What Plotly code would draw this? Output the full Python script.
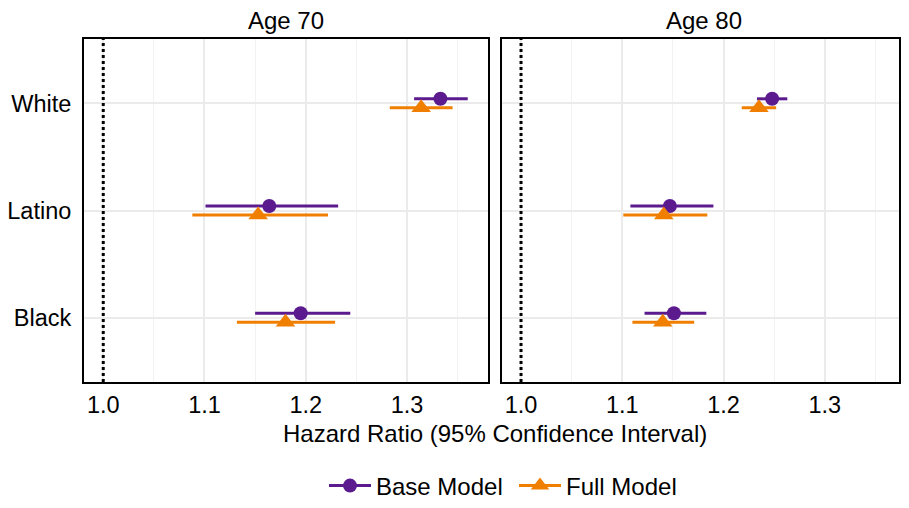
import plotly.graph_objects as go

groups = ["White", "Latino", "Black"]
ages = ["Age 70", "Age 80"]

# Age 70
base70_hr = [1.333, 1.164, 1.195]
base70_lo = [1.307, 1.101, 1.150]
base70_hi = [1.360, 1.232, 1.244]
full70_hr = [1.314, 1.153, 1.180]
full70_lo = [1.283, 1.088, 1.132]
full70_hi = [1.345, 1.222, 1.229]

# Age 80
base80_hr = [1.248, 1.147, 1.151]
base80_lo = [1.233, 1.108, 1.122]
base80_hi = [1.263, 1.190, 1.183]
full80_hr = [1.235, 1.141, 1.140]
full80_lo = [1.218, 1.101, 1.110]
full80_hi = [1.252, 1.184, 1.171]

x_ticks = [1.0, 1.1, 1.2, 1.3]

PURPLE = "#5B1A8E"
ORANGE = "#F07F00"
FONT = "Liberation Sans, Arial, Helvetica, sans-serif"

ypos = {"White": 3, "Latino": 2, "Black": 1}
dodge = 0.042

fig = go.Figure()

def add_series(hr, lo, hi, color, symbol, size, offset, xa, ya, name):
    ys = [ypos[g] + offset for g in groups]
    fig.add_trace(go.Scatter(
        x=hr, y=ys, mode="markers", name=name, showlegend=False,
        marker=dict(color=color, symbol=symbol, size=size, line=dict(width=0)),
        error_x=dict(type="data", symmetric=False,
                     array=[h - m for h, m in zip(hi, hr)],
                     arrayminus=[m - l for m, l in zip(hr, lo)],
                     color=color, thickness=3, width=0),
        xaxis=xa, yaxis=ya, hoverinfo="x+y"))

add_series(base70_hr, base70_lo, base70_hi, PURPLE, "circle", 14, dodge, "x", "y", "Base Model")
add_series(full70_hr, full70_lo, full70_hi, ORANGE, "triangle-up", 17, -dodge, "x", "y", "Full Model")
add_series(base80_hr, base80_lo, base80_hi, PURPLE, "circle", 14, dodge, "x2", "y2", "Base Model")
add_series(full80_hr, full80_lo, full80_hi, ORANGE, "triangle-up", 17, -dodge, "x2", "y2", "Full Model")

# legend entries
fig.add_trace(go.Scatter(x=[None], y=[None], mode="lines+markers", name="Base Model",
                         line=dict(color=PURPLE, width=3),
                         marker=dict(color=PURPLE, symbol="circle", size=14)))
fig.add_trace(go.Scatter(x=[None], y=[None], mode="lines+markers", name="Full Model",
                         line=dict(color=ORANGE, width=3),
                         marker=dict(color=ORANGE, symbol="triangle-up", size=17)))

# the page body adds an 8px margin; figure sized so the page fits the window exactly
OFF = 8
W, H = 893, 492
def px(v):
    return (v - OFF) / W
def py(v):
    return 1 - (v - OFF) / H

common_x = dict(tickvals=x_ticks, ticktext=[f"{v:.1f}" for v in x_ticks],
                showgrid=True, gridcolor="#EBEBEB", gridwidth=1.6,
                minor=dict(dtick=0.05, tick0=1.0, showgrid=True, gridcolor="#F2F2F2", gridwidth=0.8),
                zeroline=False, showline=True, mirror=True, linecolor="black", linewidth=2,
                ticks="outside", ticklen=1, tickcolor="rgba(0,0,0,0)",
                tickfont=dict(size=23.5, color="black", family=FONT), automargin=False)
common_y = dict(range=[0.4, 3.6], tickvals=[3, 2, 1], ticktext=groups,
                showgrid=True, gridcolor="#EBEBEB", gridwidth=1.6,
                zeroline=False, showline=True, mirror=True, linecolor="black", linewidth=2,
                ticks="outside", ticklen=6, tickcolor="rgba(0,0,0,0)",
                tickfont=dict(size=23.5, color="black", family=FONT), automargin=False)

ydom = [py(382), py(39)]
fig.update_layout(
    width=W, height=H, margin=dict(l=0, r=0, t=0, b=0, autoexpand=False),
    paper_bgcolor="white", plot_bgcolor="white",
    font=dict(family=FONT, color="black", size=24),
    xaxis=dict(domain=[px(84), px(488)], range=[0.981, 1.380], anchor="y", **common_x),
    xaxis2=dict(domain=[px(502), px(899)], range=[0.9812, 1.3733], anchor="y2", **common_x),
    yaxis=dict(domain=ydom, anchor="x", **common_y),
    yaxis2=dict(domain=ydom, anchor="x2", showticklabels=False, **common_y),
    legend=dict(orientation="h", x=px(514), xanchor="center", y=py(486), yanchor="middle",
                font=dict(size=24, family=FONT, color="black"), itemwidth=42,
                entrywidth=133, entrywidthmode="pixels",
                bgcolor="rgba(0,0,0,0)"),
    showlegend=True,
)

for xa, ya in [("x", "y"), ("x2", "y2")]:
    fig.add_shape(type="line", x0=1.0, x1=1.0, y0=0, y1=1, xref=xa, yref=f"{ya} domain",
                  line=dict(color="black", width=3, dash="dot"), layer="above")

for txt, cx in [(ages[0], 286), (ages[1], 704)]:
    fig.add_annotation(text=txt, x=px(cx), y=py(21), xref="paper", yref="paper",
                       xanchor="center", yanchor="middle", showarrow=False,
                       font=dict(size=24, family=FONT, color="black"))
fig.add_annotation(text="Hazard Ratio (95% Confidence Interval)", x=px(495), y=py(433),
                   xref="paper", yref="paper", xanchor="center", yanchor="middle",
                   showarrow=False, font=dict(size=24, family=FONT, color="black"))

fig.write_html("out.html")
